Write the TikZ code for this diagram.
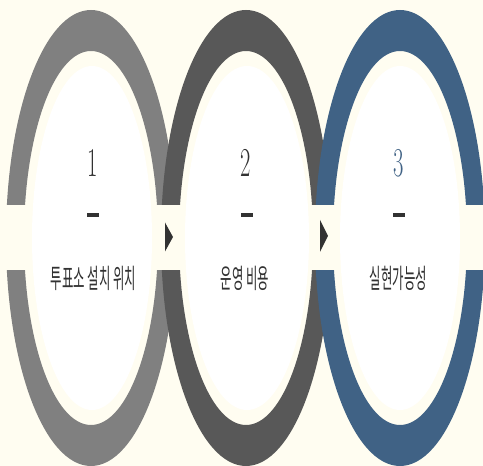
\documentclass[tikz,border=0pt]{standalone}
\usepackage{fontspec}
\usepackage{graphicx}
\newfontfamily\krfont{Noto Sans CJK KR}
\definecolor{bgc}{RGB}{255,253,241}
\definecolor{ringA}{RGB}{128,128,128}
\definecolor{ringB}{RGB}{88,88,88}
\definecolor{ringC}{RGB}{64,98,133}
\definecolor{inkc}{RGB}{50,50,50}
\tikzset{
  ringshape/.style={even odd rule},
  num/.style={inner sep=0pt, font=\fontsize{41}{41}\selectfont, text=inkc},
  dashbar/.style={fill=inkc, minimum width=12pt, minimum height=4pt, inner sep=0pt},
  lbl/.style={inner sep=0pt, font=\krfont\fontsize{27}{27}\selectfont, text=inkc},
  arrowtri/.style={fill=inkc}
}
\begin{document}
\begin{tikzpicture}[x=1pt,y=1pt]
\useasboundingbox (0,0) rectangle (483,466);
\fill[bgc] (0,0) rectangle (483,466);
% rings
\fill[ringA, ringshape] (91,228) ellipse [x radius=85pt, y radius=228pt]
                        (91,228) ellipse [x radius=67pt, y radius=187pt];
\fill[ringB, ringshape] (246,228) ellipse [x radius=85pt, y radius=228pt]
                        (246,228) ellipse [x radius=67pt, y radius=187pt];
\fill[ringC, ringshape] (400,228) ellipse [x radius=85pt, y radius=228pt]
                        (400,228) ellipse [x radius=67pt, y radius=187pt];
% band
\fill[bgc] (0,196) rectangle (483,261);
% white centres
\fill[white] (92,228) ellipse [x radius=60pt, y radius=172pt];
\fill[white] (247,228) ellipse [x radius=62pt, y radius=172pt];
\fill[white] (400,228) ellipse [x radius=60pt, y radius=172pt];
% numbers
\node[num] (n1) at (92.5,303) {\scalebox{0.55}[1]{1}};
\node[num] (n2) at (246,303) {\scalebox{0.55}[1]{2}};
\node[num, text=ringC] (n3) at (399,303) {\scalebox{0.55}[1]{3}};
% dashes
\node[dashbar] (d1) at (93,251) {};
\node[dashbar] (d2) at (246.5,251) {};
\node[dashbar] (d3) at (399,251) {};
% labels
\node[lbl] (l1) at (93.5,188) {\scalebox{0.46}[1]{투표소 설치 위치}};
\node[lbl] (l2) at (245,188) {\scalebox{0.46}[1]{운영 비용}};
\node[lbl] (l3) at (398.5,188) {\scalebox{0.46}[1]{실현가능성}};
% arrows
\coordinate (a1) at (173,229);
\coordinate (a2) at (328,230);
\fill[arrowtri] (a1) -- ++(-8,14.5) -- ++(0,-29) -- cycle;
\fill[arrowtri] (a2) -- ++(-8,16) -- ++(0,-32) -- cycle;
\end{tikzpicture}
\end{document}
